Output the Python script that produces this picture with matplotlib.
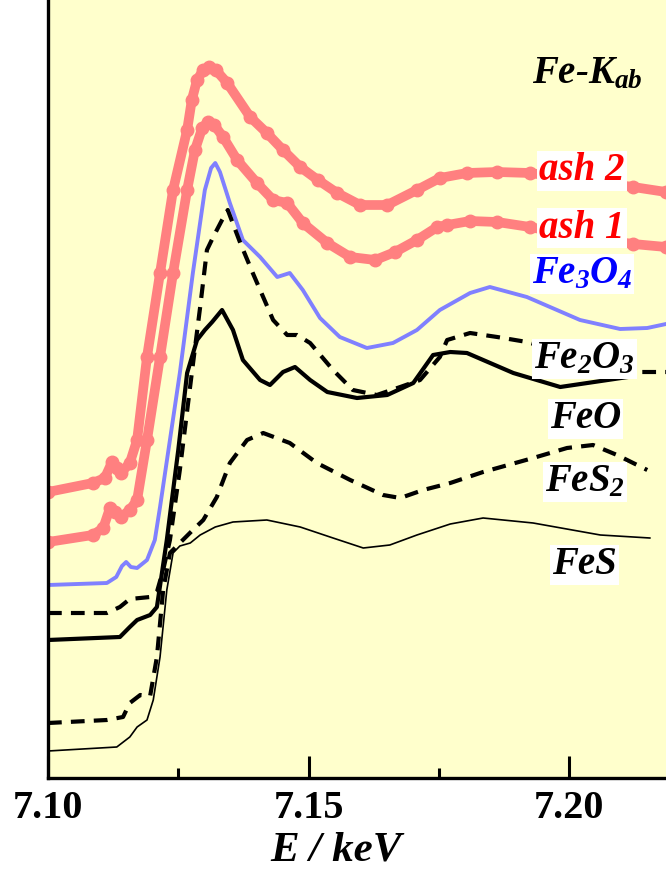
import matplotlib.pyplot as plt

plt.rcParams['mathtext.fontset'] = 'custom'
plt.rcParams['mathtext.rm'] = 'Liberation Serif:italic:bold'
plt.rcParams['mathtext.it'] = 'Liberation Serif:italic:bold'
plt.rcParams['mathtext.bf'] = 'Liberation Serif:italic:bold'

# Fe K-edge XANES spectra (offset for clarity)
e_ash2 = [7.1000, 7.1086, 7.1109, 7.1123, 7.1132, 7.1140, 7.1157, 7.1171, 7.1190, 7.1215,
          7.1240, 7.1267, 7.1276, 7.1286, 7.1298, 7.1309, 7.1322, 7.1344, 7.1388, 7.1420,
          7.1451, 7.1484, 7.1518, 7.1555, 7.1599, 7.1651, 7.1708, 7.1752, 7.1804, 7.1862,
          7.1925, 7.2021, 7.2123, 7.2186]
a_ash2 = [2.86, 2.95, 3.00, 3.16, 3.10, 3.05, 3.15, 3.38, 4.21, 5.05,
          5.88, 6.48, 6.78, 6.98, 7.08, 7.11, 7.08, 6.95, 6.61, 6.45,
          6.28, 6.11, 5.98, 5.85, 5.73, 5.73, 5.88, 6.00, 6.05, 6.06,
          6.05, 5.98, 5.91, 5.86]

e_ash1 = [7.1000, 7.1086, 7.1106, 7.1119, 7.1129, 7.1140, 7.1157, 7.1171, 7.1190, 7.1215,
          7.1240, 7.1267, 7.1282, 7.1296, 7.1307, 7.1319, 7.1336, 7.1363, 7.1401, 7.1432,
          7.1459, 7.1489, 7.1536, 7.1580, 7.1628, 7.1666, 7.1708, 7.1747, 7.1766, 7.1810,
          7.1862, 7.1925, 7.2021, 7.2123, 7.2186]
a_ash1 = [2.36, 2.43, 2.50, 2.70, 2.66, 2.61, 2.68, 2.78, 3.38, 4.21,
          5.05, 5.88, 6.28, 6.50, 6.56, 6.53, 6.41, 6.18, 5.95, 5.78,
          5.75, 5.55, 5.35, 5.21, 5.18, 5.26, 5.38, 5.51, 5.53, 5.57,
          5.56, 5.51, 5.41, 5.34, 5.31]

e_fe3o4 = [7.1000, 7.1113, 7.1131, 7.1142, 7.1150, 7.1159, 7.1171, 7.1190, 7.1205, 7.1215,
           7.1234, 7.1253, 7.1278, 7.1301, 7.1313, 7.1321, 7.1330, 7.1349, 7.1374, 7.1407,
           7.1440, 7.1464, 7.1489, 7.1522, 7.1560, 7.1612, 7.1662, 7.1708, 7.1752, 7.1810,
           7.1848, 7.1919, 7.2021, 7.2098, 7.2150, 7.2186]
a_fe3o4 = [1.93, 1.95, 2.01, 2.12, 2.16, 2.11, 2.10, 2.18, 2.38, 2.71,
           3.38, 4.05, 5.05, 5.88, 6.10, 6.15, 6.06, 5.75, 5.38, 5.21,
           5.01, 5.05, 4.88, 4.60, 4.41, 4.30, 4.35, 4.48, 4.68, 4.85,
           4.91, 4.81, 4.58, 4.49, 4.50, 4.54]

e_fe2o3 = [7.1000, 7.1113, 7.1138, 7.1157, 7.1196, 7.1209, 7.1221, 7.1234, 7.1253, 7.1276,
           7.1292, 7.1305, 7.1317, 7.1334, 7.1345, 7.1369, 7.1393, 7.1432, 7.1459, 7.1478,
           7.1503, 7.1547, 7.1585, 7.1631, 7.1676, 7.1714, 7.1752, 7.1766, 7.1810, 7.1862,
           7.1919, 7.2021, 7.2136, 7.2186]
a_fe2o3 = [1.65, 1.65, 1.71, 1.79, 1.81, 1.86, 2.08, 2.38, 3.08, 4.05,
           4.71, 5.28, 5.41, 5.58, 5.68, 5.35, 5.05, 4.58, 4.43, 4.43,
           4.35, 4.08, 3.88, 3.83, 3.91, 3.98, 4.21, 4.38, 4.45, 4.41,
           4.36, 4.21, 4.06, 4.06]

e_feo = [7.1000, 7.1138, 7.1157, 7.1171, 7.1196, 7.1209, 7.1228, 7.1250, 7.1267, 7.1286,
         7.1301, 7.1315, 7.1334, 7.1355, 7.1374, 7.1407, 7.1426, 7.1451, 7.1474, 7.1503,
         7.1536, 7.1593, 7.1651, 7.1701, 7.1739, 7.1772, 7.1804, 7.1893, 7.1983, 7.2113]
a_feo = [1.38, 1.41, 1.51, 1.58, 1.63, 1.71, 2.38, 3.28, 4.05, 4.38,
         4.48, 4.56, 4.68, 4.48, 4.18, 3.98, 3.93, 4.06, 4.11, 3.98,
         3.86, 3.80, 3.83, 3.95, 4.23, 4.26, 4.25, 4.05, 3.91, 4.01]

e_fes2 = [7.1000, 7.1113, 7.1144, 7.1157, 7.1177, 7.1196, 7.1209, 7.1221, 7.1234, 7.1253,
          7.1278, 7.1298, 7.1324, 7.1349, 7.1382, 7.1413, 7.1464, 7.1516, 7.1580, 7.1643,
          7.1676, 7.1720, 7.1772, 7.1835, 7.1931, 7.1996, 7.2046, 7.2092, 7.2150]
a_fes2 = [0.55, 0.58, 0.61, 0.75, 0.83, 0.82, 1.21, 1.88, 2.25, 2.35,
          2.48, 2.58, 2.81, 3.15, 3.38, 3.45, 3.35, 3.15, 2.98, 2.83,
          2.80, 2.88, 2.95, 3.06, 3.20, 3.30, 3.33, 3.23, 3.08]

e_fes = [7.1000, 7.1132, 7.1157, 7.1171, 7.1190, 7.1202, 7.1215, 7.1228, 7.1240, 7.1253,
         7.1273, 7.1292, 7.1321, 7.1355, 7.1420, 7.1484, 7.1547, 7.1605, 7.1656, 7.1708,
         7.1772, 7.1835, 7.1931, 7.2060, 7.2155]
a_fes = [0.27, 0.31, 0.41, 0.51, 0.58, 0.78, 1.21, 1.88, 2.25, 2.32,
         2.35, 2.43, 2.51, 2.56, 2.58, 2.51, 2.40, 2.30, 2.33, 2.43,
         2.54, 2.60, 2.55, 2.43, 2.40]

fig = plt.figure(figsize=(6.66, 8.69), dpi=100)
ax = fig.add_axes([48 / 666, 91 / 869, 618 / 666, 778 / 869])
ax.set_facecolor('#FFFFCC')

pink = '#FF8080'
ax.plot(e_ash2, a_ash2, color=pink, lw=7, marker='o', ms=9, solid_capstyle='round')
ax.plot(e_ash1, a_ash1, color=pink, lw=7, marker='o', ms=9, solid_capstyle='round')
ax.plot(e_fe3o4, a_fe3o4, color='#8080FF', lw=2.8)
ax.plot(e_fe2o3, a_fe2o3, color='black', lw=3.0, ls=(0, (3.3, 2.2)))
ax.plot(e_feo, a_feo, color='black', lw=3.0)
ax.plot(e_fes2, a_fes2, color='black', lw=3.0, ls=(0, (3.3, 2.2)))
ax.plot(e_fes, a_fes, color='black', lw=1.2)

ax.set_xlim(7.10, 7.2186)
ax.set_ylim(0, 7.78)

box = dict(facecolor='white', edgecolor='none', pad=1.5)
lab = dict(ha='center', va='center', fontsize=28, family='Liberation Serif',
           weight='bold', style='italic', bbox=box)
ax.text(7.2025, 6.07, 'ash 2', color='red', **lab)
ax.text(7.2025, 5.50, 'ash 1', color='red', **lab)
ax.text(7.2025, 5.04, r'$Fe_3O_4$', color='blue', **lab)
ax.text(7.2029, 4.19, r'$Fe_2O_3$', color='black', **lab)
ax.text(7.2031, 3.59, 'FeO', color='black', **lab)
ax.text(7.2031, 2.96, r'$FeS_2$', color='black', **lab)
ax.text(7.2029, 2.13, 'FeS', color='black', **lab)
ax.text(7.2035, 7.06, r'$Fe\text{-}K_{ab}$', ha='center', va='center', fontsize=28)

ax.set_xticks([7.10, 7.15, 7.20])
ax.set_xticklabels(['7.10', '7.15', '7.20'])
ax.set_xticks([7.125, 7.175], minor=True)
ax.set_yticks([])
ax.tick_params(axis='x', which='major', direction='in', length=16, width=2.2, pad=9)
ax.tick_params(axis='x', which='minor', direction='in', length=7, width=2.2)
for t in ax.get_xticklabels():
    t.set_fontfamily('Liberation Serif')
    t.set_fontweight('bold')
    t.set_fontsize(29)
ax.set_xlabel('E / keV', fontsize=31, family='Liberation Serif', weight='bold',
              style='italic', labelpad=3)
ax.xaxis.label.set_x(0.466)

ax.spines['left'].set_linewidth(2.4)
ax.spines['bottom'].set_linewidth(2.4)
ax.spines['top'].set_visible(False)
ax.spines['right'].set_visible(False)

fig.savefig('out.png', dpi=100)
